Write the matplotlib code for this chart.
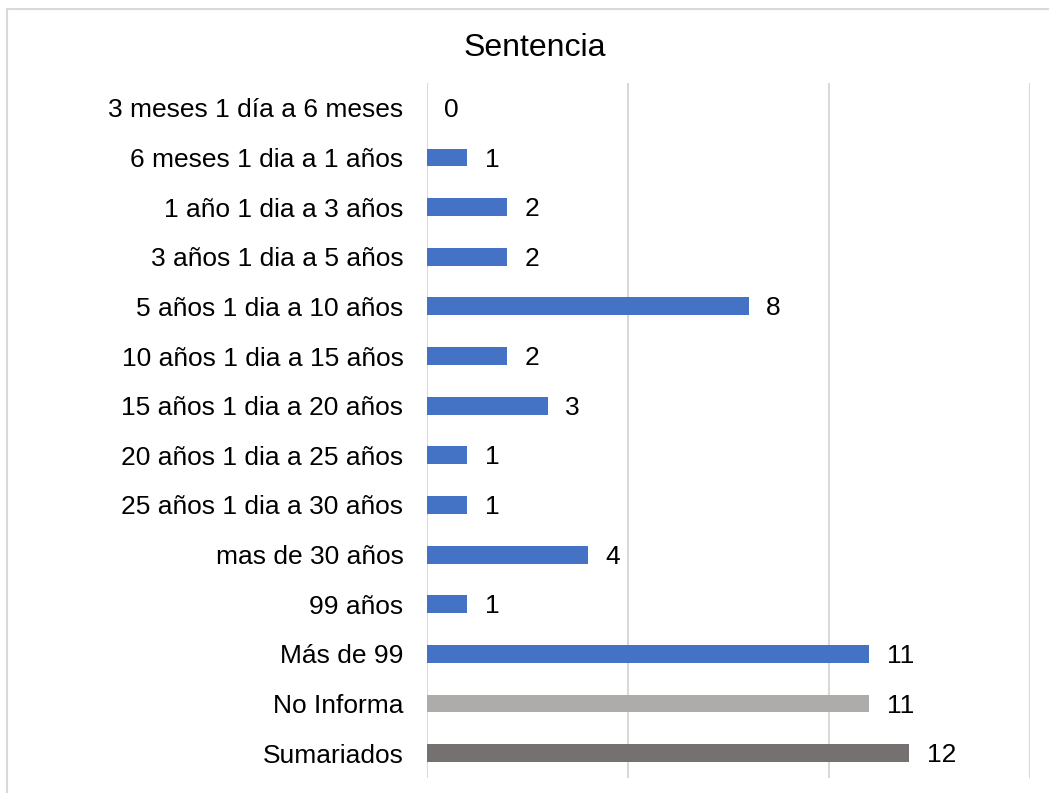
import matplotlib
matplotlib.use("Agg")
import matplotlib.pyplot as plt
from matplotlib.patches import Rectangle

categories = ["3 meses 1 día a 6 meses", "6 meses 1 dia a 1 años", "1 año 1 dia a 3 años",
              "3 años 1 dia a 5 años", "5 años 1 dia a 10 años", "10 años 1 dia a 15 años",
              "15 años 1 dia a 20 años", "20 años 1 dia a 25 años", "25 años 1 dia a 30 años",
              "mas de 30 años", "99 años", "Más de 99", "No Informa", "Sumariados"]
values = [0, 1, 2, 2, 8, 2, 3, 1, 1, 4, 1, 11, 11, 12]
colors = ["#4472C4"] * 12 + ["#AEABAB", "#767171"]

plt.rcParams['font.family'] = ['Liberation Sans', 'DejaVu Sans']

W, H = 1049, 793
fig = plt.figure(figsize=(W / 100, H / 100), dpi=100)
ax = fig.add_axes([427 / W, 1 - 778 / H, (1030 - 427) / W, (778 - 83) / H])

y = list(range(len(categories)))
ax.barh(y, values, height=0.36, color=colors, zorder=3)
for yi, v in zip(y, values):
    ax.annotate(str(v), (v, yi), xytext=(12.5, -1.5), textcoords='offset points',
                va='center', ha='left', fontsize=19, color='#000000')

ax.set_yticks(y)
ax.set_yticklabels(categories, fontsize=19, color='#000000')
ax.set_ylim(len(categories) - 0.5, -0.5)
ax.set_xlim(0, 15)
ax.set_xticks([0, 5, 10, 15])
ax.set_xticklabels([])
ax.tick_params(axis='both', length=0)
ax.tick_params(axis='y', pad=17)
ax.grid(axis='x', color='#D9D9D9', linewidth=1.5, zorder=0)
for s in ax.spines.values():
    s.set_visible(False)

fig.text((464 + 606) / 2 / W, 1 - 48 / H, "Sentencia", ha='center', va='center',
         fontsize=23, color='#000000')

fig.add_artist(Rectangle((7 / W, -0.1), 1.2, 1 - 9 / H + 0.1, transform=fig.transFigure,
                         fill=False, edgecolor='#D9D9D9', linewidth=1.5))

fig.savefig("out.png", dpi=100)
